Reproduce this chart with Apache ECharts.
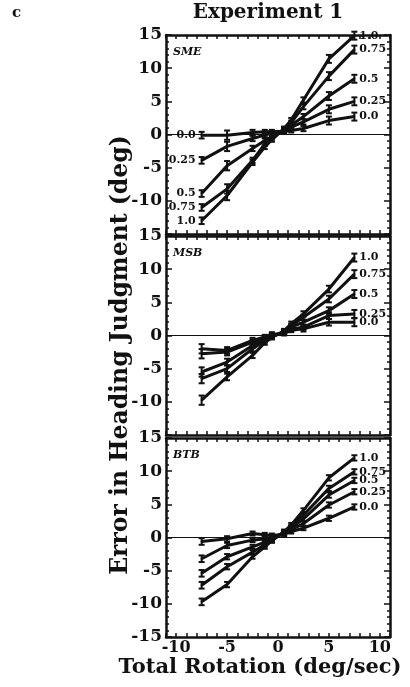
<!DOCTYPE html>
<html>
<head>
<meta charset="utf-8">
<script src="https://cdn.jsdelivr.net/npm/echarts@6/dist/echarts.min.js"></script>
<style>
  html, body { margin: 0; padding: 0; background: #fff; }
  #main { width: 410px; height: 687px; }
</style>
</head>
<body>
<div id="main"></div>
<script>
var chart = echarts.init(document.getElementById('main'));

// rotation rates (deg/sec) at which judgments were measured
var rotation = [-7.5, -5, -2.5, -1.3, -0.6, 0.6, 1.3, 2.5, 5, 7.5];
var gainNames = ['0.0', '0.25', '0.5', '0.75', '1.0'];
var panelNames = ['SME', 'MSB', 'BTB'];
var xTickLabels = [-10, -5, 0, 5, 10];

// heading error (deg), one row per gain 0.0 .. 1.0
var smeValues = [
    [-0.1, -0.1, 0.3, 0.4, 0.4, 0.5, 0.6, 0.9, 2.1, 2.7],
    [-3.9, -1.8, -0.6, -0.1, 0.2, 0.6, 1.1, 1.9, 3.8, 5.0],
    [-8.9, -4.7, -2.1, -0.9, -0.3, 0.7, 1.4, 2.7, 5.8, 8.4],
    [-11.0, -8.2, -3.9, -1.4, -0.5, 0.8, 1.8, 4.2, 8.8, 12.8],
    [-13.0, -9.2, -4.2, -1.9, -0.8, 0.9, 2.2, 5.2, 11.4, 14.9]
];
var msbValues = [
    [-2.0, -2.25, -0.75, -0.2, 0.2, 0.3, 0.8, 1.0, 2.0, 2.0],
    [-2.75, -2.5, -1.0, -0.4, 0.0, 0.4, 1.0, 1.25, 3.0, 3.25],
    [-5.5, -4.0, -1.5, -0.6, -0.1, 0.5, 1.3, 2.0, 3.75, 6.25],
    [-6.5, -5.0, -2.0, -0.8, -0.2, 0.6, 1.5, 2.75, 5.5, 9.25],
    [-9.75, -6.25, -3.0, -1.1, -0.3, 0.7, 1.8, 3.25, 7.0, 11.75]
];
var btbValues = [
    [-0.6, -0.2, 0.6, 0.4, 0.3, 0.5, 0.9, 1.4, 2.9, 4.6],
    [-3.2, -1.2, -0.4, -0.2, 0.0, 0.6, 1.2, 2.1, 4.9, 6.9],
    [-5.4, -2.9, -1.4, -0.7, -0.2, 0.7, 1.4, 2.8, 6.4, 8.6],
    [-7.2, -4.4, -2.2, -1.1, -0.4, 0.8, 1.6, 3.4, 7.4, 9.9],
    [-9.7, -7.1, -2.9, -1.4, -0.5, 0.9, 1.9, 4.1, 9.0, 12.0]
];

// standard error (deg) at each rotation rate
var smeErr = [0.5, 0.7, 0.4, 0.3, 0.3, 0.3, 0.3, 0.4, 0.6, 0.6];
var msbErr = [0.7, 0.5, 0.4, 0.3, 0.3, 0.3, 0.3, 0.4, 0.5, 0.6];
var btbErr = [0.5, 0.4, 0.3, 0.3, 0.3, 0.3, 0.3, 0.3, 0.4, 0.4];

var panelValues = [smeValues, msbValues, btbValues];
var panelErr = [smeErr, msbErr, btbErr];

var FONT = 'DejaVu Serif';
var INK = '#111';
var gridTops = [35, 236, 438];

var grids = [], xAxes = [], yAxes = [], series = [];

function errorBar(params, api) {
    var x = api.value(0), y = api.value(1), e = api.value(2);
    var top = api.coord([x, y + e]);
    var bot = api.coord([x, y - e]);
    var w = 3;
    var st = { stroke: INK, lineWidth: 2 };
    return {
        type: 'group',
        children: [
            { type: 'line', shape: { x1: top[0], y1: top[1], x2: bot[0], y2: bot[1] }, style: st },
            { type: 'line', shape: { x1: top[0] - w, y1: top[1], x2: top[0] + w, y2: top[1] }, style: st },
            { type: 'line', shape: { x1: bot[0] - w, y1: bot[1], x2: bot[0] + w, y2: bot[1] }, style: st }
        ]
    };
}

panelNames.forEach(function (pname, p) {
    grids.push({ left: 166, width: 224, top: gridTops[p], height: 199 });
    var frame = { show: true, onZero: false, lineStyle: { color: INK, width: 2.5 } };
    var tick = { inside: true, length: 4, lineStyle: { color: INK, width: 1.5 } };
    // bottom and top x axes
    xAxes.push({
        gridIndex: p, type: 'value', min: -11, max: 11, interval: 1, position: 'bottom',
        axisLine: frame, axisTick: tick, splitLine: { show: false },
        axisLabel: p === 2 ? {
            customValues: xTickLabels, fontFamily: FONT, fontWeight: 'bold',
            fontSize: 16, color: INK, margin: 3
        } : { show: false }
    });
    xAxes.push({
        gridIndex: p, type: 'value', min: -11, max: 11, interval: 1, position: 'top',
        axisLine: frame, axisTick: tick, splitLine: { show: false }, axisLabel: { show: false }
    });
    var yTick = { inside: true, length: 6, lineStyle: { color: INK, width: 1.5 } };
    var yMinor = { show: true, splitNumber: 5, length: 3, lineStyle: { color: INK, width: 1.5 } };
    yAxes.push({
        gridIndex: p, type: 'value', min: -15, max: 15, interval: 5, position: 'left',
        axisLine: frame, axisTick: yTick, minorTick: yMinor, splitLine: { show: false },
        axisLabel: {
            fontFamily: FONT, fontWeight: 'bold', fontSize: 17, color: INK, margin: 4,
            showMinLabel: p === 2
        }
    });
    yAxes.push({
        gridIndex: p, type: 'value', min: -15, max: 15, interval: 5, position: 'right',
        axisLine: frame, axisTick: yTick, minorTick: yMinor, splitLine: { show: false },
        axisLabel: { show: false }
    });

    var xi = p * 2, yi = p * 2;
    panelValues[p].forEach(function (vals, g) {
        var data = vals.map(function (v, i) {
            var item = { value: [rotation[i], v] };
            if (i === vals.length - 1) {
                item.label = { show: true, position: 'right', distance: 4 };
            } else if (i === 0 && p === 0) {
                item.label = { show: true, position: 'left', distance: 5 };
            }
            return item;
        });
        var s = {
            type: 'line', xAxisIndex: xi, yAxisIndex: yi, data: data,
            symbol: 'circle', symbolSize: 2, showSymbol: true, animation: false, silent: true,
            itemStyle: { color: INK },
            lineStyle: { color: INK, width: 3 },
            label: {
                show: false, formatter: gainNames[g],
                fontFamily: FONT, fontWeight: 'bold', fontSize: 11, color: INK
            },
            labelLayout: { hideOverlap: false },
            z: 3
        };
        if (g === 0) {
            s.markLine = {
                silent: true, symbol: 'none', animation: false,
                label: { show: false },
                lineStyle: { color: INK, width: 1, type: 'solid' },
                data: [{ yAxis: 0 }]
            };
        }
        series.push(s);
        series.push({
            type: 'custom', xAxisIndex: xi, yAxisIndex: yi, animation: false, silent: true,
            renderItem: errorBar,
            data: vals.map(function (v, i) { return [rotation[i], v, panelErr[p][i]]; }),
            z: 4
        });
    });
});

var textStyle = function (size, extra) {
    var s = { fontFamily: FONT, fontWeight: 'bold', fontSize: size, fill: INK };
    for (var k in extra) s[k] = extra[k];
    return s;
};

var graphics = [
    { type: 'text', left: 12, top: 6, style: textStyle(15, { text: 'c' }) },
    { type: 'text', x: 268, y: 13, style: textStyle(20, { text: 'Experiment 1', align: 'center', verticalAlign: 'middle' }) },
    { type: 'text', x: 260, y: 668, style: textStyle(21, { text: 'Total Rotation (deg/sec)', align: 'center', verticalAlign: 'middle' }) },
    {
        type: 'text', x: 121, y: 355, rotation: Math.PI / 2,
        style: textStyle(23.5, { text: 'Error in Heading Judgment (deg)', align: 'center', verticalAlign: 'middle' })
    }
];
panelNames.forEach(function (pname, p) {
    graphics.push({
        type: 'text', x: 173, y: gridTops[p] + 17,
        style: textStyle(11, { text: pname, fontStyle: 'italic', verticalAlign: 'middle' })
    });
});

chart.setOption({
    animation: false,
    grid: grids,
    xAxis: xAxes,
    yAxis: yAxes,
    series: series,
    graphic: graphics
});
</script>
</body>
</html>
